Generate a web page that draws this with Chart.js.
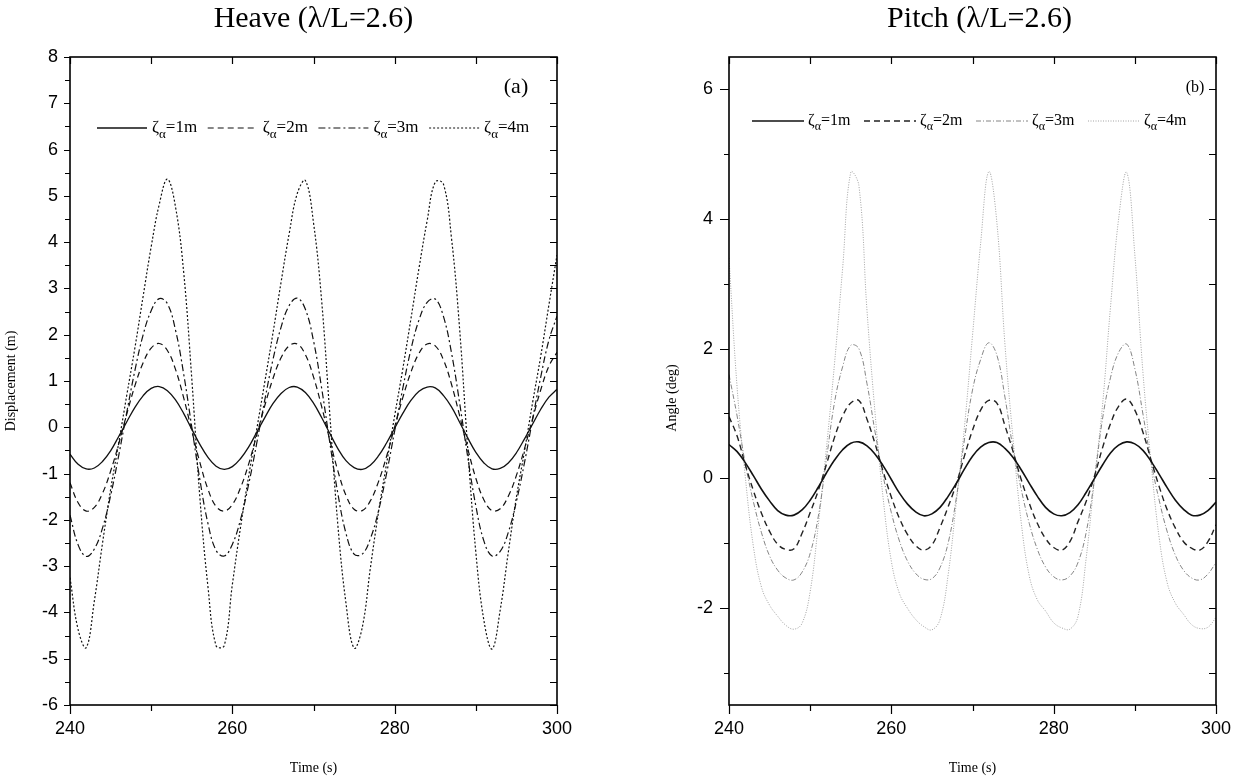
<!DOCTYPE html>
<html>
<head>
<meta charset="utf-8">
<script src="https://cdn.jsdelivr.net/npm/chart.js@4"></script>
<style>
  html, body { margin: 0; padding: 0; background: #fff; }
  #wrap { position: relative; width: 1236px; height: 778px; }
  .panel { position: absolute; top: 0; width: 618px; height: 778px; }
</style>
</head>
<body>
<div id="wrap">
  <div class="panel" style="left:0"><canvas id="heaveChart"></canvas></div>
  <div class="panel" style="left:618px"><canvas id="pitchChart"></canvas></div>
</div>
<script>
// ---------- Data (1 s steps) ----------
const time = [240, 241, 242, 243, 244, 245, 246, 247, 248, 249,
  250, 251, 252, 253, 254, 255, 256, 257, 258, 259,
  260, 261, 262, 263, 264, 265, 266, 267, 268, 269,
  270, 271, 272, 273, 274, 275, 276, 277, 278, 279,
  280, 281, 282, 283, 284, 285, 286, 287, 288, 289,
  290, 291, 292, 293, 294, 295, 296, 297, 298, 299, 300];

const ampLabels = ["1m", "2m", "3m", "4m"];

// y tick positions of the pitch panel (labels on the even ones)
const pitchYTicks = [-3, -2, -1, 0, 1, 2, 3, 4, 5, 6];

// Heave displacement (m)
const heave1 = [-0.58, -0.80, -0.90, -0.88, -0.74, -0.51, -0.20, 0.12, 0.43, 0.68,
  0.84, 0.88, 0.79, 0.59, 0.30, -0.04, -0.37, -0.65, -0.84, -0.91,
  -0.85, -0.68, -0.43, -0.11, 0.21, 0.51, 0.73, 0.86, 0.87, 0.75,
  0.52, 0.21, -0.13, -0.46, -0.72, -0.87, -0.91, -0.82, -0.62, -0.34,
  -0.02, 0.30, 0.58, 0.78, 0.87, 0.85, 0.69, 0.44, 0.11, -0.23,
  -0.54, -0.77, -0.90, -0.89, -0.77, -0.55, -0.25, 0.07, 0.39, 0.65, 0.82];
const heave2 = [-1.20, -1.63, -1.81, -1.73, -1.43, -0.95, -0.36, 0.29, 0.90, 1.39,
  1.71, 1.81, 1.66, 1.25, 0.64, -0.07, -0.76, -1.34, -1.71, -1.81,
  -1.67, -1.31, -0.80, -0.17, 0.47, 1.05, 1.50, 1.76, 1.80, 1.57,
  1.09, 0.45, -0.27, -0.94, -1.47, -1.77, -1.80, -1.59, -1.18, -0.63,
  0.01, 0.64, 1.19, 1.60, 1.80, 1.76, 1.46, 0.93, 0.25, -0.46,
  -1.10, -1.57, -1.80, -1.76, -1.49, -1.04, -0.46, 0.19, 0.81, 1.32, 1.62];
const heave3 = [-1.90, -2.54, -2.79, -2.63, -2.18, -1.48, -0.61, 0.33, 1.23, 1.99,
  2.52, 2.78, 2.67, 2.10, 1.16, 0.01, -1.13, -2.08, -2.66, -2.78,
  -2.53, -2.00, -1.24, -0.35, 0.59, 1.46, 2.16, 2.63, 2.79, 2.55,
  1.87, 0.85, -0.32, -1.43, -2.29, -2.74, -2.74, -2.41, -1.81, -1.00,
  -0.08, 0.84, 1.68, 2.32, 2.70, 2.77, 2.40, 1.61, 0.53, -0.64,
  -1.70, -2.46, -2.78, -2.68, -2.27, -1.60, -0.76, 0.18, 1.09, 1.88, 2.40];
const heave4 = [-3.25, -4.37, -4.76, -3.75, -2.51, -1.35, -0.34, 0.70, 1.72, 2.82,
  3.90, 4.82, 5.36, 4.76, 3.36, 1.06, -1.52, -3.45, -4.72, -4.72,
  -3.40, -2.17, -1.07, -0.05, 0.98, 2.03, 3.13, 4.18, 5.05, 5.33,
  4.42, 2.74, 0.30, -2.11, -3.80, -4.77, -4.33, -3.05, -1.84, -0.79,
  0.25, 1.26, 2.34, 3.44, 4.46, 5.30, 5.26, 4.09, 2.13, -0.45,
  -2.70, -4.18, -4.79, -3.95, -2.70, -1.51, -0.51, 0.54, 1.54, 2.64, 3.72];

// Pitch angle (deg)
const pitch1 = [0.52, 0.41, 0.24, 0.04, -0.17, -0.35, -0.50, -0.57, -0.57, -0.49,
  -0.34, -0.14, 0.08, 0.28, 0.44, 0.54, 0.56, 0.50, 0.37, 0.19,
  -0.02, -0.23, -0.40, -0.52, -0.58, -0.55, -0.45, -0.28, -0.08, 0.14,
  0.34, 0.48, 0.55, 0.55, 0.46, 0.32, 0.13, -0.08, -0.28, -0.45,
  -0.55, -0.58, -0.53, -0.41, -0.22, -0.01, 0.20, 0.39, 0.51, 0.56,
  0.53, 0.43, 0.26, 0.06, -0.15, -0.34, -0.48, -0.57, -0.57, -0.50, -0.37];
const pitch2 = [0.95, 0.65, 0.21, -0.19, -0.54, -0.82, -1.02, -1.10, -1.09, -0.85,
  -0.53, -0.19, 0.21, 0.63, 0.96, 1.16, 1.20, 0.91, 0.53, 0.10,
  -0.29, -0.62, -0.87, -1.04, -1.11, -1.03, -0.76, -0.44, -0.09, 0.34,
  0.74, 1.05, 1.20, 1.16, 0.81, 0.41, -0.02, -0.39, -0.70, -0.93,
  -1.07, -1.11, -0.98, -0.67, -0.36, 0.02, 0.46, 0.84, 1.11, 1.22,
  1.05, 0.71, 0.28, -0.13, -0.49, -0.77, -0.98, -1.08, -1.11, -0.98, -0.72];
const pitch3 = [1.60, 0.96, 0.23, -0.36, -0.84, -1.20, -1.42, -1.54, -1.57, -1.45,
  -1.16, -0.59, 0.29, 1.17, 1.72, 2.05, 2.00, 1.46, 0.71, 0.03,
  -0.53, -0.97, -1.28, -1.47, -1.56, -1.55, -1.38, -1.00, -0.31, 0.59,
  1.36, 1.83, 2.09, 1.90, 1.25, 0.45, -0.17, -0.70, -1.10, -1.37,
  -1.52, -1.57, -1.51, -1.30, -0.84, -0.04, 0.90, 1.55, 1.94, 2.07,
  1.69, 0.99, 0.25, -0.34, -0.83, -1.19, -1.42, -1.54, -1.57, -1.48, -1.30];
const pitch4 = [3.40, 1.40, 0.03, -1.05, -1.68, -1.96, -2.13, -2.27, -2.33, -2.24,
  -1.75, -0.72, 0.46, 1.77, 3.24, 4.72, 4.52, 2.59, 1.00, -0.32,
  -1.28, -1.78, -2.01, -2.18, -2.29, -2.34, -2.18, -1.49, -0.38, 0.78,
  2.20, 3.62, 4.73, 3.95, 2.06, 0.60, -0.68, -1.51, -1.88, -2.05,
  -2.23, -2.31, -2.33, -2.13, -1.24, -0.05, 1.10, 2.64, 4.00, 4.72,
  3.45, 1.63, 0.24, -0.92, -1.62, -1.93, -2.10, -2.26, -2.32, -2.30, -2.15];

// ---------- Helpers ----------
const SERIF = '"Liberation Serif", "Times New Roman", serif';
const SANS = '"Liberation Sans", Arial, sans-serif';

function isMultiple(v, step) {
  return Math.abs(v / step - Math.round(v / step)) < 1e-6;
}

function lineSet(label, data, style) {
  return Object.assign({
    label, data,
    pointRadius: 0,
    tension: 0.4,
    fill: false,
    borderCapStyle: "butt"
  }, style);
}

// frame, inward/outward ticks, titles and legend (Origin-like look)
const decor = {
  id: "decor",
  afterDatasetsDraw(chart, args, o) {
    const { ctx, chartArea: a, scales: { x, y } } = chart;
    ctx.save();

    // ticks
    ctx.strokeStyle = "#000";
    ctx.lineWidth = 1.2;
    ctx.setLineDash([]);
    ctx.beginPath();
    x.ticks.forEach((t) => {
      const px = Math.round(x.getPixelForValue(t.value)) + 0.5;
      const major = isMultiple(t.value, o.xMajor);
      ctx.moveTo(px, a.bottom);
      ctx.lineTo(px, a.bottom + (major ? 9 : 6));
      ctx.moveTo(px, a.top);
      ctx.lineTo(px, a.top + 7);
    });
    y.ticks.forEach((t) => {
      if (!isMultiple(t.value, o.yMinor)) return;
      const py = Math.round(y.getPixelForValue(t.value)) + 0.5;
      const major = isMultiple(t.value, o.yMajor);
      ctx.moveTo(a.left, py);
      ctx.lineTo(a.left - (major ? o.leftTick[0] : o.leftTick[1]), py);
      ctx.moveTo(a.right, py);
      ctx.lineTo(a.right - o.rightTick, py);
    });
    ctx.stroke();

    // frame
    ctx.lineWidth = 1.6;
    ctx.strokeRect(a.left, a.top, a.right - a.left, a.bottom - a.top);

    // titles
    ctx.fillStyle = "#000";
    ctx.textAlign = "center";
    ctx.textBaseline = "middle";
    const cx = (a.left + a.right) / 2;
    ctx.font = `30px ${SERIF}`;
    ctx.fillText(o.title, cx + o.titleDx, 19);
    ctx.font = `${o.panelFont}px ${SERIF}`;
    ctx.fillText(o.panel, a.right + o.panelX, o.panelY);
    ctx.font = `14px ${SERIF}`;
    ctx.fillText(o.xTitle, cx, 768);
    ctx.save();
    ctx.translate(o.yTitleX, o.yTitleY);
    ctx.rotate(-Math.PI / 2);
    ctx.fillText(o.yTitle, 0, 0);
    ctx.restore();

    // legend
    const lg = o.legend;
    chart.data.datasets.forEach((ds, i) => {
      const x0 = a.left + lg.x + i * lg.stride;
      ctx.strokeStyle = ds.borderColor;
      ctx.lineWidth = ds.borderWidth;
      ctx.setLineDash(ds.borderDash || []);
      ctx.beginPath();
      ctx.moveTo(x0, lg.y);
      ctx.lineTo(x0 + lg.len, lg.y);
      ctx.stroke();
      ctx.setLineDash([]);

      let tx = x0 + lg.len + lg.gap;
      ctx.textAlign = "left";
      ctx.fillStyle = "#000";
      ctx.font = `${lg.size}px ${SERIF}`;
      ctx.fillText("\u03B6", tx, lg.y);
      tx += ctx.measureText("\u03B6").width;
      ctx.font = `${Math.round(lg.size * 0.75)}px ${SERIF}`;
      ctx.fillText("\u03B1", tx, lg.y + lg.size * 0.38);
      tx += ctx.measureText("\u03B1").width;
      ctx.font = `${lg.size}px ${SERIF}`;
      ctx.fillText("=" + ampLabels[i], tx, lg.y);
    });

    ctx.restore();
  }
};

function makeChart(id, cfg) {
  return new Chart(document.getElementById(id), {
    type: "line",
    data: { labels: time, datasets: cfg.datasets },
    options: {
      responsive: true,
      maintainAspectRatio: false,
      animation: false,
      layout: { padding: cfg.padding },
      plugins: {
        legend: { display: false },
        tooltip: { enabled: false },
        decor: cfg.decor
      },
      scales: {
        x: {
          type: "linear",
          min: 240,
          max: 300,
          grid: { display: false, drawTicks: false },
          border: { display: false },
          ticks: {
            stepSize: 10,
            autoSkip: false,
            maxRotation: 0,
            padding: 13,
            color: "#000",
            font: { family: SANS, size: 18 },
            callback: (v) => (isMultiple(v, cfg.decor.xMajor) ? String(v) : "")
          },
          afterFit: (s) => {
            s.height = 73;
            s.paddingLeft = 0;
            s.paddingRight = 0;
          }
        },
        y: {
          min: cfg.yMin,
          max: cfg.yMax,
          grid: { display: false, drawTicks: false },
          border: { display: false },
          ticks: {
            stepSize: cfg.decor.yMinor,
            autoSkip: false,
            padding: cfg.yPad,
            color: "#000",
            font: { family: SANS, size: 18 },
            callback: (v) => (isMultiple(v, cfg.decor.yMajor) ? String(v) : "")
          },
          afterBuildTicks: (s) => {
            if (cfg.yTicks) s.ticks = cfg.yTicks.map((v) => ({ value: v }));
          },
          afterFit: (s) => { s.width = cfg.yWidth; }
        }
      }
    },
    plugins: [decor]
  });
}

// ---------- Charts ----------
document.addEventListener("DOMContentLoaded", () => {
  makeChart("heaveChart", {
    datasets: [
      lineSet("\u03B6\u03B1=1m", heave1, { borderColor: "#111", borderWidth: 1.3 }),
      lineSet("\u03B6\u03B1=2m", heave2, { borderColor: "#111", borderWidth: 1.2, borderDash: [6, 4] }),
      lineSet("\u03B6\u03B1=3m", heave3, { borderColor: "#111", borderWidth: 1.2, borderDash: [7, 3, 2, 3] }),
      lineSet("\u03B6\u03B1=4m", heave4, { borderColor: "#111", borderWidth: 1.2, borderDash: [2, 2] })
    ],
    padding: { top: 57, right: 61, left: 0, bottom: 0 },
    yMin: -6,
    yMax: 8,
    yWidth: 70,
    yPad: 12,
    decor: {
      title: "Heave (\u03BB/L=2.6)",
      titleDx: 0,
      panel: "(a)",
      panelFont: 22,
      panelX: -41,
      panelY: 87,
      xTitle: "Time (s)",
      yTitle: "Displacement (m)",
      yTitleX: 11,
      yTitleY: 381,
      xMajor: 20,
      yMajor: 1,
      yMinor: 0.5,
      leftTick: [6, 5],
      rightTick: 7,
      legend: { x: 27, stride: 110.7, len: 50, gap: 5, y: 128, size: 17 }
    }
  });

  makeChart("pitchChart", {
    datasets: [
      lineSet("\u03B6\u03B1=1m", pitch1, { borderColor: "#111", borderWidth: 1.6 }),
      lineSet("\u03B6\u03B1=2m", pitch2, { borderColor: "#222", borderWidth: 1.4, borderDash: [6, 4] }),
      lineSet("\u03B6\u03B1=3m", pitch3, { borderColor: "#777", borderWidth: 0.9, borderDash: [5, 2, 1, 2] }),
      lineSet("\u03B6\u03B1=4m", pitch4, { borderColor: "#999", borderWidth: 0.9, borderDash: [1, 1.5] })
    ],
    padding: { top: 57, right: 20, left: 0, bottom: 0 },
    yMin: -3.5,
    yMax: 6.5,
    yTicks: pitchYTicks,
    yWidth: 111,
    yPad: 16,
    decor: {
      title: "Pitch (\u03BB/L=2.6)",
      titleDx: 7,
      panel: "(b)",
      panelFont: 16,
      panelX: -21,
      panelY: 88,
      xTitle: "Time (s)",
      yTitle: "Angle (deg)",
      yTitleX: 54,
      yTitleY: 398,
      xMajor: 20,
      yMajor: 2,
      yMinor: 1,
      leftTick: [9, 5],
      rightTick: 7,
      legend: { x: 23, stride: 112, len: 52, gap: 4, y: 121, size: 16 }
    }
  });
});
</script>
</body>
</html>
